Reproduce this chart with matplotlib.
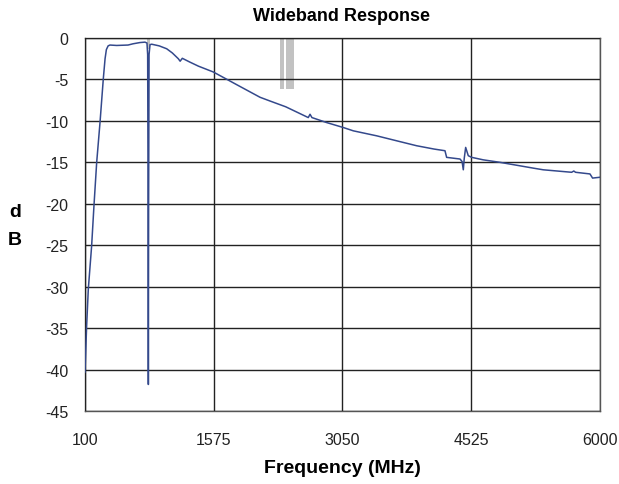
import matplotlib
matplotlib.use("Agg")
import matplotlib.pyplot as plt

# ---- data ----
freq_mhz = [100, 119, 138, 176, 203, 234, 272, 310, 330, 345, 365, 386, 463, 593, 650,
            730, 787, 810, 818, 823, 826, 829, 834, 845, 864, 950, 1036, 1100, 1169,
            1190, 1215, 1300, 1400, 1570, 1850, 2105, 2219, 2400, 2658, 2678, 2700,
            2868, 3059, 3174, 3441, 3708, 3900, 4100, 4224, 4243, 4396, 4420, 4434,
            4445, 4461, 4491, 4530, 4663, 4854, 5236, 5350, 5675, 5700, 5720, 5885,
            5915, 6000]
response_db = [-40.3, -34.7, -30.3, -25.1, -20.2, -15.0, -10.2, -4.9, -2.5, -1.4, -0.95,
               -0.85, -0.9, -0.85, -0.7, -0.55, -0.5, -0.6, -2.0, -20.0, -41.8, -20.0,
               -2.0, -0.8, -0.75, -0.95, -1.3, -1.8, -2.5, -2.8, -2.45, -2.9, -3.4, -4.1,
               -5.7, -7.15, -7.6, -8.3, -9.6, -9.2, -9.6, -10.2, -10.8, -11.2, -11.8,
               -12.5, -13.0, -13.4, -13.6, -14.4, -14.6, -14.9, -15.9, -14.5, -13.2,
               -14.2, -14.4, -14.7, -15.0, -15.7, -15.9, -16.2, -16.05, -16.2, -16.4,
               -16.9, -16.8]

marker_start_mhz = [805, 2334, 2403]
marker_end_mhz = [845, 2380, 2500]
marker_depth_db = [-1.3, -6.15, -6.15]

x_ticks = [100, 1575, 3050, 4525, 6000]
y_ticks = [0, -5, -10, -15, -20, -25, -30, -35, -40, -45]

# ---- figure ----
fig = plt.figure(figsize=(6.19, 4.85), dpi=100)
ax = fig.add_axes([0.1373, 0.1505, 0.8320, 0.7691])

for s, e, d in zip(marker_start_mhz, marker_end_mhz, marker_depth_db):
    ax.fill_between([s, e], [0, 0], [d, d], color="#c2c2c2", linewidth=0, zorder=1)

ax.plot(freq_mhz, response_db, color="#34498c", linewidth=1.1, zorder=3)

ax.set_xlim(100, 6000)
ax.set_ylim(-45, 0)
ax.set_xticks(x_ticks)
ax.set_yticks(y_ticks)
ax.set_xticklabels([str(v) for v in x_ticks])
ax.set_yticklabels([str(v) for v in y_ticks])
ax.grid(True, color="#222222", linewidth=1.0, zorder=2)
ax.set_axisbelow(False)
for sp in ax.spines.values():
    sp.set_color("#555555")
    sp.set_linewidth(1.0)

ax.tick_params(axis="both", length=0, labelsize=11.5)
ax.tick_params(axis="y", pad=12)
ax.tick_params(axis="x", pad=15)
for lab in ax.get_xticklabels() + ax.get_yticklabels():
    lab.set_family(["Liberation Sans", "DejaVu Sans"])
    lab.set_color("#222222")

ax.set_xlabel("Frequency (MHz)", fontsize=14, fontweight="bold",
              family=["Liberation Sans", "DejaVu Sans"], labelpad=9)
fig.text(0.5525, 0.965, "Wideband Response", ha="center", va="center",
         fontsize=13, fontweight="bold",
         family=["Liberation Sans", "DejaVu Sans"])
fig.text(0.024, 0.562, "d", ha="center", va="center", fontsize=14, fontweight="bold",
         family=["Liberation Sans", "DejaVu Sans"])
fig.text(0.024, 0.505, "B", ha="center", va="center", fontsize=14, fontweight="bold",
         family=["Liberation Sans", "DejaVu Sans"])

fig.savefig("out.png", dpi=100)
